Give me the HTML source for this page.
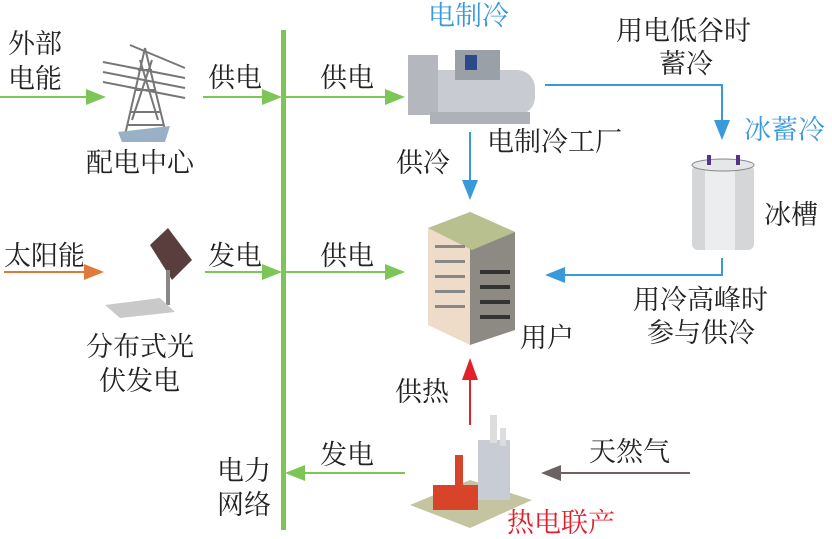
<!DOCTYPE html>
<html><head><meta charset="utf-8"><style>
html,body{margin:0;padding:0;background:#fff}
svg{display:block}
text{font-family:"Liberation Serif","Noto Serif CJK SC",serif;font-size:27px;fill:#222}
.b{fill:#3a9ad9}.r{fill:#e0202a}
</style></head><body>
<svg width="832" height="539" viewBox="0 0 832 539">
<rect x="281" y="30" width="5" height="500" fill="#7cc657"/>
<g stroke-width="2" fill="none">
<line x1="0" y1="97" x2="88" y2="97" stroke="#7cc657"/>
<line x1="203" y1="97" x2="265" y2="97" stroke="#7cc657"/>
<line x1="286" y1="97" x2="388" y2="97" stroke="#7cc657"/>
<line x1="4" y1="272" x2="86" y2="272" stroke="#e07a3a"/>
<line x1="205" y1="272" x2="265" y2="272" stroke="#7cc657"/>
<line x1="286" y1="272" x2="388" y2="272" stroke="#7cc657"/>
<line x1="405" y1="473" x2="302" y2="473" stroke="#7cc657"/>
<line x1="690" y1="473" x2="558" y2="473" stroke="#6b6262"/>
<line x1="470" y1="425" x2="470" y2="378" stroke="#e0202a"/>
<line x1="470" y1="132" x2="470" y2="183" stroke="#3a9ad9"/>
<polyline points="545,85 722,85 722,123" stroke="#3a9ad9"/>
<polyline points="722,258 722,275 562,275" stroke="#3a9ad9"/>
</g>
<g>
<polygon points="86,89 106,97 86,105" fill="#7cc657"/>
<polygon points="262,89 282,97 262,105" fill="#7cc657"/>
<polygon points="385,89 405,97 385,105" fill="#7cc657"/>
<polygon points="84,264 104,272 84,280" fill="#e07a3a"/>
<polygon points="262,264 282,272 262,280" fill="#7cc657"/>
<polygon points="385,264 405,272 385,280" fill="#7cc657"/>
<polygon points="305,465 285,473 305,481" fill="#7cc657"/>
<polygon points="561,465 541,473 561,481" fill="#6b6262"/>
<polygon points="462,380 470,358 478,380" fill="#e0202a"/>
<polygon points="462,180 470,200 478,180" fill="#3a9ad9"/>
<polygon points="714,120 722,140 730,120" fill="#3a9ad9"/>
<polygon points="565,267 545,275 565,283" fill="#3a9ad9"/>
</g>
<g stroke="#777" stroke-width="2" fill="none">
<path d="M145,48 L125,135 M145,48 L165,130 M135,90 L155,90 M130,112 L160,112 M128,125 L163,125 M138,70 L152,70"/>
<path d="M103,62 L185,78 M103,72 L185,88 M103,82 L185,98 M130,45 L185,68"/>
<path d="M140,60 L158,120 M152,60 L132,120"/>
</g>
<polygon points="118,132 170,126 165,142 122,142" fill="#9ab0c6"/>
<polygon points="150,245 168,228 192,260 172,280" fill="#5a3e3e"/>
<line x1="168" y1="270" x2="168" y2="305" stroke="#888" stroke-width="4"/>
<polygon points="105,305 160,298 175,312 120,318" fill="#c9c9c9"/>
<rect x="415" y="70" width="120" height="45" rx="18" fill="#c8ccd2"/>
<rect x="408" y="55" width="30" height="60" fill="#b4b8be"/>
<rect x="455" y="50" width="45" height="30" fill="#9aa0a8"/>
<rect x="465" y="55" width="12" height="15" fill="#2a4a8a"/>
<rect x="430" y="112" width="100" height="12" fill="#aeb2b8"/>
<rect x="692" y="165" width="62" height="85" rx="6" fill="#d4d6d8"/>
<rect x="705" y="165" width="30" height="85" fill="#ecedee"/>
<ellipse cx="723" cy="165" rx="31" ry="6" fill="#e6e7e8" stroke="#888"/>
<rect x="707" y="155" width="4" height="10" fill="#553388"/><rect x="736" y="155" width="4" height="10" fill="#553388"/>
<polygon points="428,228 470,212 470,345 428,325" fill="#efdcc8"/>
<polygon points="470,212 515,232 515,330 470,345" fill="#8d8a84"/>
<polygon points="428,228 470,212 515,232 472,250" fill="#b9c08f"/>
<g fill="#333">
<rect x="480" y="270" width="30" height="4"/><rect x="480" y="285" width="30" height="4"/><rect x="480" y="300" width="30" height="4"/><rect x="480" y="315" width="30" height="4"/>
</g>
<g fill="#888"><rect x="435" y="245" width="30" height="3"/><rect x="435" y="260" width="30" height="3"/><rect x="435" y="275" width="30" height="3"/><rect x="435" y="290" width="30" height="3"/><rect x="435" y="305" width="30" height="3"/></g>
<polygon points="410,505 470,480 532,500 470,528" fill="#c4c4a0"/>
<rect x="478" y="440" width="32" height="60" fill="#c8ccd4"/>
<rect x="433" y="485" width="45" height="25" fill="#d8442a"/>
<rect x="455" y="455" width="8" height="32" fill="#d8442a"/>
<rect x="490" y="415" width="7" height="28" fill="#ddd"/>
<rect x="500" y="428" width="6" height="18" fill="#ddd"/>
<text x="8" y="53">外部</text><text x="8" y="88">电能</text>
<text x="86" y="172">配电中心</text>
<text x="208" y="87">供电</text>
<text x="320" y="87">供电</text>
<text class="b" x="428" y="25">电制冷</text>
<text x="616" y="40">用电低谷时</text>
<text x="659" y="73">蓄冷</text>
<text class="b" x="744" y="139">冰蓄冷</text>
<text x="487" y="151">电制冷工厂</text>
<text x="396" y="172">供冷</text>
<text x="764" y="224">冰槽</text>
<text x="4" y="265">太阳能</text>
<text x="208" y="265">发电</text>
<text x="320" y="265">供电</text>
<text x="633" y="309">用冷高峰时</text>
<text x="647" y="342">参与供冷</text>
<text x="520" y="347">用户</text>
<text x="86" y="356">分布式光</text>
<text x="99" y="390">伏发电</text>
<text x="395" y="401">供热</text>
<text x="589" y="461">天然气</text>
<text x="320" y="464">发电</text>
<text x="217" y="480">电力</text>
<text x="217" y="514">网络</text>
<text class="r" x="507" y="532">热电联产</text>
</svg>
</body></html>
